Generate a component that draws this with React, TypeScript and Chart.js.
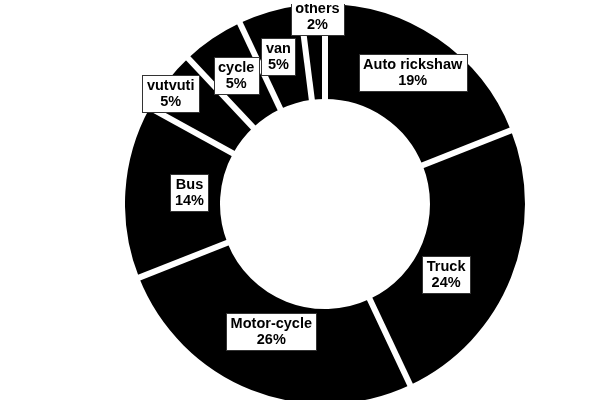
import React, { useEffect, useRef } from "react";
import { Chart, registerables } from "chart.js";

Chart.register(...registerables);

const categories = ["Auto rickshaw", "Truck", "Motor-cycle", "Bus", "vutvuti", "cycle", "van", "others"];
const shares = [19, 24, 26, 14, 5, 5, 5, 2];

// label placement (fraction of outer radius, angular nudge in degrees)
const labelRadiusFrac = [0.79, 0.7, 0.69, 0.68, 0.95, 0.78, 0.775, 0.94];
const labelAngleShift = [-0.5, 8.5, 1.3, 1.3, -2.1, -0.5, -1.3, 1.3];

const gapPlugin = {
  id: "sliceGaps",
  afterDatasetsDraw(chart: any) {
    const ctx = chart.ctx;
    const meta = chart.getDatasetMeta(0);
    ctx.save();
    ctx.strokeStyle = "#ffffff";
    ctx.lineWidth = 6;
    ctx.lineCap = "butt";
    meta.data.forEach((arc: any) => {
      const p = arc.getProps(["x", "y", "startAngle", "innerRadius", "outerRadius"], true);
      const a = p.startAngle;
      ctx.beginPath();
      ctx.moveTo(p.x + Math.cos(a) * (p.innerRadius - 2), p.y + Math.sin(a) * (p.innerRadius - 2));
      ctx.lineTo(p.x + Math.cos(a) * (p.outerRadius + 2), p.y + Math.sin(a) * (p.outerRadius + 2));
      ctx.stroke();
    });
    ctx.restore();
  },
};

const labelPlugin = {
  id: "boxLabels",
  afterDatasetsDraw(chart: any) {
    const ctx = chart.ctx;
    const meta = chart.getDatasetMeta(0);
    const data = chart.data.datasets[0].data as number[];
    const total = data.reduce((a, b) => a + b, 0);
    ctx.save();
    ctx.font = "bold 14.5px 'Liberation Sans', Arial, sans-serif";
    ctx.textAlign = "center";
    ctx.textBaseline = "middle";
    meta.data.forEach((arc: any, i: number) => {
      const p = arc.getProps(["x", "y", "startAngle", "endAngle", "outerRadius"], true);
      const mid = (p.startAngle + p.endAngle) / 2 + (labelAngleShift[i] * Math.PI) / 180;
      const r = p.outerRadius * labelRadiusFrac[i];
      const cx = p.x + Math.cos(mid) * r;
      const cy = p.y + Math.sin(mid) * r;
      const line1 = String(chart.data.labels[i]);
      const line2 = Math.round((data[i] / total) * 100) + "%";
      const w = Math.max(ctx.measureText(line1).width, ctx.measureText(line2).width) + 9;
      const lh = 16;
      const h = lh * 2 + 5;
      const bx = Math.round(cx - w / 2) + 0.5;
      const by = Math.round(cy - h / 2) + 0.5;
      ctx.fillStyle = "#ffffff";
      ctx.fillRect(bx, by, Math.round(w), h);
      ctx.strokeStyle = "#333333";
      ctx.lineWidth = 1;
      ctx.strokeRect(bx, by, Math.round(w), h);
      ctx.fillStyle = "#000000";
      ctx.fillText(line1, cx, cy - lh / 2 + 0.5);
      ctx.fillText(line2, cx, cy + lh / 2 + 0.5);
    });
    ctx.restore();
  },
};

export default function App() {
  const ref = useRef<HTMLCanvasElement | null>(null);
  useEffect(() => {
    if (!ref.current) return;
    const chart = new Chart(ref.current, {
      type: "doughnut",
      data: {
        labels: categories,
        datasets: [
          {
            data: shares,
            backgroundColor: "#000000",
            borderWidth: 0,
          } as any,
        ],
      },
      options: {
        responsive: false,
        animation: false,
        cutout: "52.5%",
        layout: { padding: 0 },
        plugins: {
          legend: { display: false },
          tooltip: { enabled: false },
          title: { display: false },
        },
      },
      plugins: [gapPlugin, labelPlugin],
    });
    return () => chart.destroy();
  }, []);
  return (
    <div
      style={{
        position: "fixed",
        left: 0,
        top: 0,
        width: 600,
        height: 400,
        overflow: "hidden",
        background: "#ffffff",
      }}
    >
      <canvas
        ref={ref}
        width={400}
        height={400}
        style={{ position: "absolute", left: 125, top: 4, width: 400, height: 400 }}
      />
    </div>
  );
}
